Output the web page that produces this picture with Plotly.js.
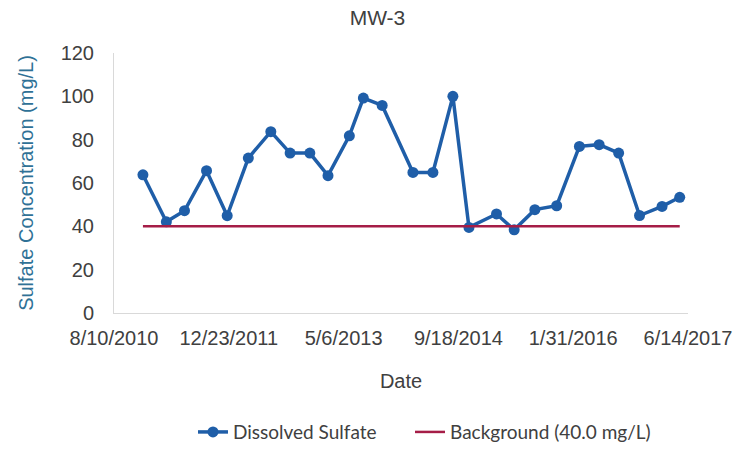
<!DOCTYPE html>
<html>
<head>
<meta charset="utf-8">
<script src="https://cdn.plot.ly/plotly-3.0.1.min.js"></script>
<style>html,body{margin:0;padding:0;background:#fff;}#chart{width:755px;height:453px;}</style>
</head>
<body>
<div id="chart"></div>
<script>
const sampleDates = ['2010-12-14','2011-03-26','2011-06-13','2011-09-17','2011-12-16','2012-03-17','2012-06-23','2012-09-15','2012-12-10','2013-02-27','2013-05-31','2013-07-31','2013-10-21','2014-03-04','2014-05-30','2014-08-25','2014-11-03','2015-03-03','2015-05-19','2015-08-17','2015-11-20','2016-02-27','2016-05-23','2016-08-16','2016-11-15','2017-02-21','2017-05-09'];
const sulfate = [63.8,42.1,47.2,65.7,44.9,71.5,83.7,73.8,73.8,63.4,81.8,99.2,95.8,64.9,64.9,100,39.5,45.7,38.4,47.7,49.5,76.9,77.7,73.8,45,49.2,53.4];
const backgroundValue = 40.0;
const backgroundDates = [sampleDates[0], sampleDates[sampleDates.length-1]];
const backgroundLevel = [backgroundValue, backgroundValue];
const xTickVals = ['2010-08-10','2011-12-23','2013-05-06','2014-09-18','2016-01-31','2017-06-14'];
const xTickText = ['8/10/2010','12/23/2011','5/6/2013','9/18/2014','1/31/2016','6/14/2017'];
const yTickVals = [0,20,40,60,80,100,120];

const traces = [
  {x: sampleDates, y: sulfate, type:'scatter', mode:'lines+markers', name:'Dissolved Sulfate',
   line:{color:'#1F5EA8', width:3.5}, marker:{color:'#1F5EA8', size:11}, legend:'legend'},
  {x: backgroundDates, y: backgroundLevel, type:'scatter', mode:'lines', name:'Background (40.0 mg/L)',
   line:{color:'#A51D47', width:2.5}, legend:'legend2'}
];

const legendFont = {family:'Lato, Liberation Sans Narrow, sans-serif', size:19, color:'#404040'};
const layout = {
  width:755, height:453,
  margin:{l:114, r:67, t:53, b:140, autoexpand:false},
  paper_bgcolor:'#fff', plot_bgcolor:'#fff',
  font:{family:'Liberation Sans, Arial, sans-serif', color:'#404040'},
  title:{text:'MW-3', font:{size:21, color:'#404040'}, x:0.5, xanchor:'center', y:0.962, yanchor:'middle'},
  xaxis:{type:'date', range:['2010-08-10','2017-06-14'], tickvals:xTickVals, ticktext:xTickText,
    showgrid:false, zeroline:false, showline:true, linecolor:'#d9d9d9', linewidth:1, ticks:'',
    ticklabelstandoff:7, tickfont:{size:20, color:'#404040'}, automargin:false,
    title:{text:'Date', font:{size:20, color:'#404040'}, standoff:25}},
  yaxis:{range:[0,120], tickvals:yTickVals, showgrid:false, zeroline:false, showline:true, linecolor:'#d9d9d9', linewidth:1, ticks:'',
    ticklabelstandoff:15, tickfont:{size:20, color:'#404040'}, automargin:false,
    title:{text:'Sulfate Concentration (mg/L)', font:{size:20, color:'#2F7196'}, standoff:21}},
  showlegend:true,
  legend:{orientation:'h', x:0.1376, xanchor:'left', y:-0.458, yanchor:'middle',
    font:legendFont, bgcolor:'rgba(0,0,0,0)'},
  legend2:{orientation:'h', x:0.5157, xanchor:'left', y:-0.458, yanchor:'middle',
    font:legendFont, bgcolor:'rgba(0,0,0,0)'},
  hovermode:false
};
Plotly.newPlot('chart', traces, layout, {displayModeBar:false, staticPlot:true});
</script>
</body>
</html>
